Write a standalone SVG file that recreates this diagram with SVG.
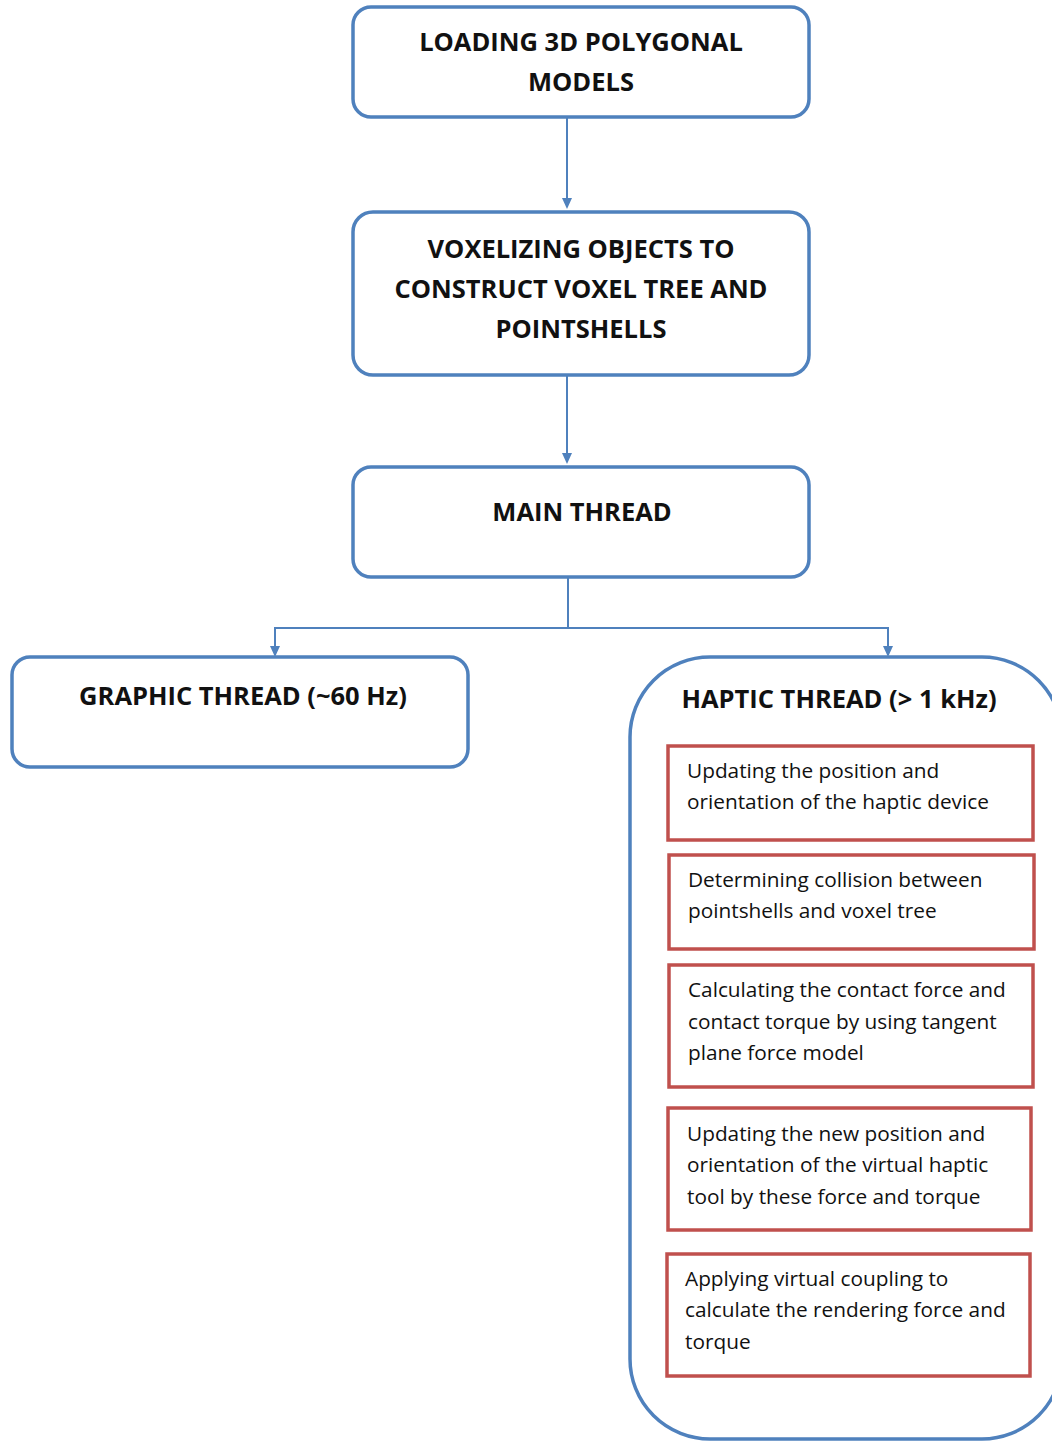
<svg xmlns="http://www.w3.org/2000/svg" width="1052" height="1441" viewBox="0 0 1052 1441">
<defs>
<style>
.b{fill:#fff;stroke:#4F81BD;stroke-width:3.5}
.r{fill:#fff;stroke:#C0504D;stroke-width:3.5}
.h{font-family:"Open Sans","Liberation Sans",sans-serif;font-weight:bold;font-size:25.5px;fill:#111;text-anchor:middle}
.t{font-family:"Open Sans","Liberation Sans",sans-serif;font-size:20.8px;fill:#111}
.c{fill:none;stroke:#4F81BD;stroke-width:2}
.ah{fill:#4F81BD}
</style>
</defs>
<rect width="1052" height="1441" fill="#fff"/>
<g id="connectors">
<line class="c" x1="567" y1="117" x2="567" y2="200"/>
<path class="ah" d="M562,198 L572,198 L567,209 z"/>
<line class="c" x1="567" y1="375" x2="567" y2="455"/>
<path class="ah" d="M562,453 L572,453 L567,464 z"/>
<line class="c" x1="568" y1="577" x2="568" y2="628"/>
<polyline class="c" points="275,648 275,628 888,628 888,648"/>
<path class="ah" d="M270,646 L280,646 L275,657 z"/>
<path class="ah" d="M883,646 L893,646 L888,657 z"/>
</g>
<g id="loading">
<rect class="b" x="353" y="7" width="456" height="110" rx="18"/>
<text class="h" x="581" y="51">LOADING 3D POLYGONAL</text>
<text class="h" x="581" y="91">MODELS</text>
</g>
<g id="voxelizing">
<rect class="b" x="353" y="212" width="456" height="163" rx="20"/>
<text class="h" x="581" y="258">VOXELIZING OBJECTS TO</text>
<text class="h" x="581" y="298">CONSTRUCT VOXEL TREE AND</text>
<text class="h" x="581" y="338">POINTSHELLS</text>
</g>
<g id="main">
<rect class="b" x="353" y="467" width="456" height="110" rx="18"/>
<text class="h" x="582" y="521">MAIN THREAD</text>
</g>
<g id="graphic">
<rect class="b" x="12" y="657" width="456" height="110" rx="18"/>
<text class="h" x="243" y="705">GRAPHIC THREAD (~60 Hz)</text>
</g>
<g id="haptic">
<rect class="b" x="630" y="657" width="432" height="782" rx="80"/>
<text class="h" x="839" y="708">HAPTIC THREAD (&gt; 1 kHz)</text>
</g>
<g id="step1">
<rect class="r" x="668" y="746" width="365" height="94"/>
<text class="t" x="687" y="778">Updating the position and</text>
<text class="t" x="687" y="809">orientation of the haptic device</text>
</g>
<g id="step2">
<rect class="r" x="669" y="855" width="365" height="94"/>
<text class="t" x="688" y="887">Determining collision between</text>
<text class="t" x="688" y="918">pointshells and voxel tree</text>
</g>
<g id="step3">
<rect class="r" x="669" y="965" width="364" height="122"/>
<text class="t" x="688" y="997">Calculating the contact force and</text>
<text class="t" x="688" y="1029">contact torque by using tangent</text>
<text class="t" x="688" y="1060">plane force model</text>
</g>
<g id="step4">
<rect class="r" x="668" y="1108" width="363" height="122"/>
<text class="t" x="687" y="1141">Updating the new position and</text>
<text class="t" x="687" y="1172">orientation of the virtual haptic</text>
<text class="t" x="687" y="1204">tool by these force and torque</text>
</g>
<g id="step5">
<rect class="r" x="667" y="1254" width="363" height="122"/>
<text class="t" x="685" y="1286">Applying virtual coupling to</text>
<text class="t" x="685" y="1317">calculate the rendering force and</text>
<text class="t" x="685" y="1349">torque</text>
</g>
</svg>
